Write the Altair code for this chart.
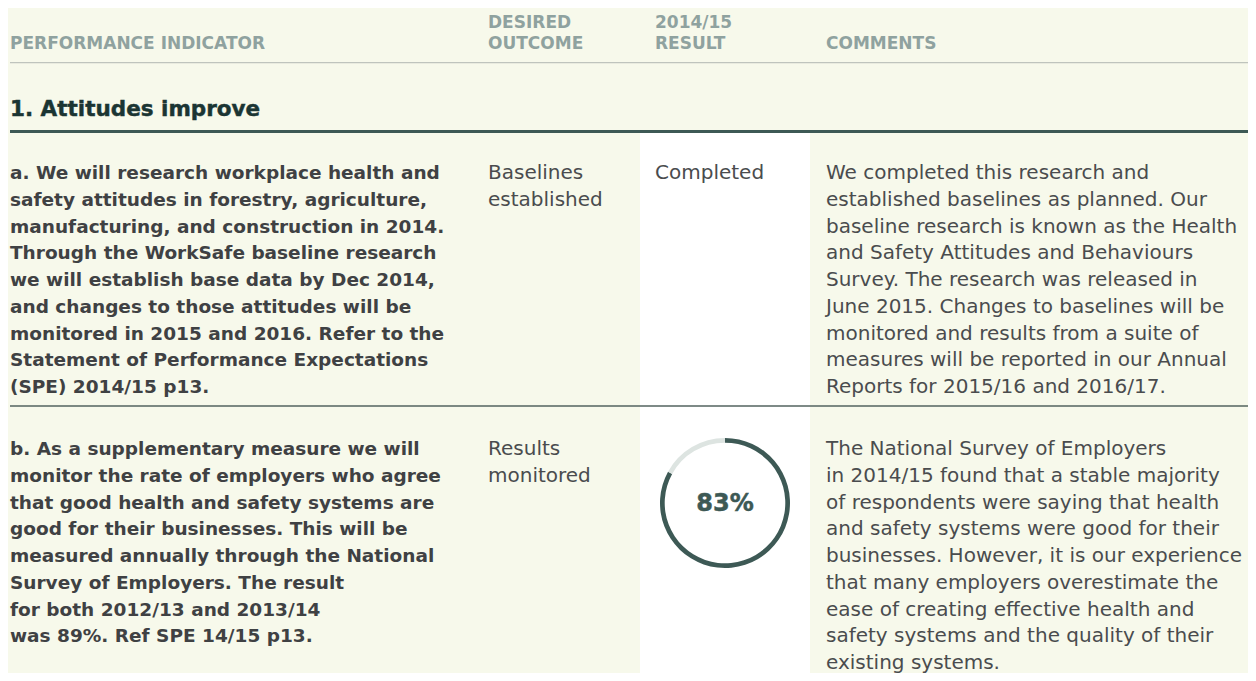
import altair as alt
import pandas as pd

# ---------------- data ----------------
header_indicator = ["PERFORMANCE INDICATOR"]
header_outcome = ["DESIRED", "OUTCOME"]
header_result = ["2014/15", "RESULT"]
header_comments = ["COMMENTS"]

section_title = "1. Attitudes improve"

row_a_indicator = [
    "a. We will research workplace health and",
    "safety attitudes in forestry, agriculture,",
    "manufacturing, and construction in 2014.",
    "Through the WorkSafe baseline research",
    "we will establish base data by Dec 2014,",
    "and changes to those attitudes will be",
    "monitored in 2015 and 2016. Refer to the",
    "Statement of Performance Expectations",
    "(SPE) 2014/15 p13.",
]
row_a_outcome = ["Baselines", "established"]
row_a_result = ["Completed"]
row_a_comments = [
    "We completed this research and",
    "established baselines as planned. Our",
    "baseline research is known as the Health",
    "and Safety Attitudes and Behaviours",
    "Survey. The research was released in",
    "June 2015. Changes to baselines will be",
    "monitored and results from a suite of",
    "measures will be reported in our Annual",
    "Reports for 2015/16 and 2016/17.",
]

row_b_indicator = [
    "b. As a supplementary measure we will",
    "monitor the rate of employers who agree",
    "that good health and safety systems are",
    "good for their businesses. This will be",
    "measured annually through the National",
    "Survey of Employers. The result",
    "for both 2012/13 and 2013/14",
    "was 89%. Ref SPE 14/15 p13.",
]
row_b_outcome = ["Results", "monitored"]
row_b_comments = [
    "The National Survey of Employers",
    "in 2014/15 found that a stable majority",
    "of respondents were saying that health",
    "and safety systems were good for their",
    "businesses. However, it is our experience",
    "that many employers overestimate the",
    "ease of creating effective health and",
    "safety systems and the quality of their",
    "existing systems.",
]

result_b_value = 83  # percent

# ---------------- layout (page pixels) ----------------
W, H = 1256, 681
M = 8
COL = {"indicator": 10, "outcome": 488, "result": 655, "comments": 826}
LINE = 26.75
HEADER_Y = [23, 44]
TITLE_Y = 110
ROW_A_Y = 173
ROW_B_Y = 449
RULE_THIN_Y = 62.7
RULE_THICK_Y = 131.5
RULE_ROW_Y = 406
RESULT_COL = (640, 810)
DONUT_C = (725, 503)


def lines(texts, x, y0, step=LINE):
    return [{"x": x, "y": y0 + i * step, "t": t} for i, t in enumerate(texts)]


header_rows = (
    lines(header_indicator, COL["indicator"], HEADER_Y[1])
    + lines(header_outcome, COL["outcome"], HEADER_Y[0], HEADER_Y[1] - HEADER_Y[0])
    + lines(header_result, COL["result"], HEADER_Y[0], HEADER_Y[1] - HEADER_Y[0])
    + lines(header_comments, COL["comments"], HEADER_Y[1])
)
bold_rows = lines(row_a_indicator, COL["indicator"], ROW_A_Y) + lines(
    row_b_indicator, COL["indicator"], ROW_B_Y
)
reg_rows = (
    lines(row_a_outcome, COL["outcome"], ROW_A_Y)
    + lines(row_a_result, COL["result"], ROW_A_Y)
    + lines(row_a_comments, COL["comments"], ROW_A_Y)
    + lines(row_b_outcome, COL["outcome"], ROW_B_Y)
    + lines(row_b_comments, COL["comments"], ROW_B_Y)
)

xs = alt.Scale(domain=[M, W - M], nice=False, zero=False)
ys = alt.Scale(domain=[M, H - M], nice=False, zero=False, reverse=True)


def X(f="x"):
    return alt.X(f"{f}:Q", scale=xs, axis=None)


def Y(f="y"):
    return alt.Y(f"{f}:Q", scale=ys, axis=None)


# white result column
col_df = pd.DataFrame([{"x": RESULT_COL[0], "x2": RESULT_COL[1], "y": RULE_THICK_Y + 1.5, "y2": H - M}])
col_rect = alt.Chart(col_df).mark_rect(color="#FFFFFF").encode(
    x=X(), x2="x2:Q", y=Y(), y2="y2:Q"
)

rules = []
for yv, color, sw in [
    (RULE_THIN_Y, "#BFC4BD", 1.3),
    (RULE_THICK_Y, "#3D5955", 3),
    (RULE_ROW_Y, "#53635F", 1.3),
]:
    rdf = pd.DataFrame([{"x": 10, "x2": W - M, "y": yv}])
    rules.append(
        alt.Chart(rdf).mark_rule(color=color, strokeWidth=sw).encode(
            x=X(), x2="x2:Q", y=Y()
        )
    )

FONT = "DejaVu Sans"

header_layer = alt.Chart(pd.DataFrame(header_rows)).mark_text(
    align="left", baseline="middle", font=FONT, fontWeight="bold", fontSize=17, color="#8FA29F"
).encode(x=X(), y=Y(), text="t:N")

title_layer = alt.Chart(pd.DataFrame([{"x": COL["indicator"], "y": TITLE_Y, "t": section_title}])).mark_text(
    align="left", baseline="middle", font=FONT, fontWeight="bold", fontSize=21.5,
    color="#1B3533", stroke="#1B3533", strokeWidth=0.45
).encode(x=X(), y=Y(), text="t:N")

bold_layer = alt.Chart(pd.DataFrame(bold_rows)).mark_text(
    align="left", baseline="middle", font=FONT, fontWeight="bold", fontSize=18.5, color="#3F4143"
).encode(x=X(), y=Y(), text="t:N")

reg_layer = alt.Chart(pd.DataFrame(reg_rows)).mark_text(
    align="left", baseline="middle", font=FONT, fontSize=20, color="#4A4C4E"
).encode(x=X(), y=Y(), text="t:N")

donut_df = pd.DataFrame(
    [
        {"part": "result", "value": result_b_value, "ord": 0, "x": DONUT_C[0], "y": DONUT_C[1]},
        {"part": "rest", "value": 100 - result_b_value, "ord": 1, "x": DONUT_C[0], "y": DONUT_C[1]},
    ]
)
donut = alt.Chart(donut_df).mark_arc(radius=65, radius2=60.3).encode(
    x=X(),
    y=Y(),
    theta=alt.Theta("value:Q", stack=True),
    order=alt.Order("ord:Q"),
    color=alt.Color(
        "part:N",
        scale=alt.Scale(domain=["result", "rest"], range=["#3D5955", "#DDE4E1"]),
        legend=None,
    ),
)
donut_label = alt.Chart(
    pd.DataFrame([{"x": DONUT_C[0], "y": DONUT_C[1] + 1, "t": f"{result_b_value}%"}])
).mark_text(
    align="center", baseline="middle", font=FONT, fontWeight="bold", fontSize=24,
    color="#3D5955", stroke="#3D5955", strokeWidth=0.5
).encode(x=X(), y=Y(), text="t:N")

chart = (
    alt.layer(col_rect, *rules, header_layer, title_layer, bold_layer, reg_layer, donut, donut_label)
    .properties(width=W - 2 * M, height=H - 2 * M, padding=0, autosize=alt.AutoSizeParams(type="none"))
    .configure(background="#F7F9EB")
    .configure_view(stroke=None, fill="#F7F9EB")
)

chart.save("out.html", embed_options={"renderer": "svg", "actions": False})
